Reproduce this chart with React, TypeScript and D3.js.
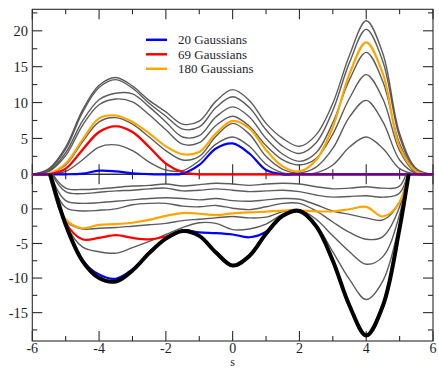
import React, { useEffect, useRef } from "react";
import * as d3 from "d3";

// sample positions along s
const xs = [-6, -5.5, -5, -4.5, -4, -3.5, -3, -2.5, -2, -1.5, -1, -0.5, 0, 0.5, 1, 1.5, 2, 2.5, 3, 3.5, 4, 4.5, 5, 5.5, 6];

// upper panel: bias potentials (gray snapshots, top to bottom)
const bias1 = [0, 0.8, 3.8, 8.9, 12.4, 13.5, 12.3, 10.3, 8.7, 7.0, 7.4, 10.2, 11.8, 10.3, 7.1, 5.0, 3.9, 5.5, 9.9, 16.6, 21.4, 16.8, 5.7, 0.8, 0];
const bias2 = [0, 0.7, 3.5, 8.6, 12.1, 13.2, 12.0, 9.9, 8.1, 6.3, 6.6, 9.3, 10.8, 9.3, 6.2, 3.9, 2.9, 4.4, 8.9, 15.6, 20.2, 15.7, 5.2, 0.6, 0];
const bias3 = [0, 0.5, 3.0, 7.4, 10.4, 11.3, 11.2, 9.4, 7.3, 5.2, 5.4, 8.0, 9.4, 8.0, 5.0, 2.8, 1.8, 3.0, 7.2, 13.2, 17.0, 12.9, 4.3, 0.4, 0];
const bias4 = [0, 0.4, 2.6, 6.8, 9.7, 10.5, 10.1, 8.3, 6.2, 4.2, 4.4, 6.8, 8.1, 6.7, 4.0, 2.0, 1.3, 2.2, 5.6, 10.6, 13.9, 10.5, 3.3, 0.2, 0];
const bias5 = [0, 0.1, 1.3, 4.5, 7.3, 7.9, 7.0, 5.2, 3.3, 2.0, 2.5, 5.3, 7.1, 5.6, 2.5, 0.7, 0.2, 1.0, 3.6, 8.0, 10.3, 7.3, 2.0, 0.1, 0];
const bias6 = [0, 0, 0.4, 2.0, 3.8, 4.1, 3.3, 1.7, 0.6, 0.5, 1.9, 4.2, 5.2, 3.9, 1.4, 0.2, 0, 0.2, 1.3, 3.8, 5.2, 3.6, 0.8, 0, 0];
const bias180 = [0, 0.1, 1.5, 4.8, 7.8, 8.2, 7.3, 5.7, 3.9, 2.8, 3.1, 5.7, 7.45, 6.4, 3.4, 1.1, 0.4, 2.0, 6.6, 14.0, 18.4, 14.0, 3.8, 0.4, 0];
const bias69 = [0, 0, 0.8, 3.4, 5.9, 6.7, 5.9, 3.8, 1.5, 0.3, 0, 0, 0, 0, 0, 0, 0, 0, 0, 0, 0, 0, 0, 0, 0];
const bias20 = [0, 0, 0, 0.1, 0.5, 0.4, 0.15, 0.02, 0, 0.1, 1.3, 3.6, 4.3, 2.9, 0.6, 0, 0, 0, 0, 0, 0, 0, 0, 0, 0];

// lower panel: free energy and free energy + bias
const freeEnergy = [14, 5.6, -2.3, -7.5, -10.0, -10.5, -8.9, -6.4, -4.3, -3.2, -3.9, -6.3, -8.2, -6.8, -3.6, -1.0, -0.3, -2.5, -7.5, -14.0, -18.3, -14.0, -2.8, 12, 26];
const sum1 = [14, 6.0, 3.0, 2.8, 2.9, 3.1, 3.3, 3.4, 3.6, 3.3, 3.5, 3.7, 3.6, 3.4, 3.6, 3.7, 3.6, 3.2, 2.9, 3.0, 3.2, 3.0, 3.3, 12.5, 26];
const sum2 = [14, 5.8, 2.5, 2.2, 2.4, 2.6, 2.7, 2.9, 3.0, 2.6, 2.7, 2.9, 2.7, 2.5, 2.6, 2.7, 2.5, 2.0, 1.7, 1.8, 1.9, 1.7, 2.3, 12, 26];
const sum3 = [14, 5.5, 1.2, 0.8, 0.9, 1.1, 1.3, 1.5, 1.6, 1.5, 1.3, 1.5, 1.2, 1.1, 1.3, 1.5, 1.4, 0.6, -0.3, -0.8, -1.3, -1.6, 1.0, 12, 26];
const sum4 = [14, 5.2, 0.2, -0.3, -0.2, 0.0, 0.6, 0.8, 0.8, 0.4, 0.3, 0.5, 0.1, -0.1, 0.3, 0.8, 0.8, -0.3, -1.9, -3.4, -4.4, -4.0, 0.3, 12, 26];
const sum5 = [14, 4.8, -1.8, -2.9, -2.8, -2.7, -2.5, -2.3, -2.1, -1.7, -1.5, -1.3, -1.1, -1.3, -1.2, -0.4, -0.1, -1.5, -3.9, -6.2, -8.0, -6.9, -0.8, 12, 26];
const sum6 = [14, 5.6, -2.2, -5.5, -6.2, -6.4, -5.6, -4.7, -3.7, -2.7, -2.0, -2.1, -3.0, -2.9, -2.2, -0.8, -0.3, -2.3, -6.2, -10.2, -13.1, -10.4, -2.0, 12, 26];
const sum180 = [14, 5.5, -1.5, -2.8, -2.3, -2.2, -2.0, -1.6, -1.0, -0.6, -0.7, -0.9, -0.65, -0.5, -0.4, -0.25, -0.2, -0.35, -0.35, -0.05, 0.3, -1.1, 1.0, 12.5, 26];
const sum69 = [14, 5.6, -2.0, -4.4, -4.2, -3.8, -4.2, -4.4, -4.0, -3.2, -3.9, -6.3, -8.2, -6.8, -3.6, -1.0, -0.3, -2.5, -7.5, -14.0, -18.3, -14.0, -2.8, 12, 26];
const sum20 = [14, 5.6, -2.3, -7.4, -9.5, -10.1, -8.75, -6.4, -4.3, -3.1, -3.4, -3.5, -3.7, -4.1, -3.3, -1.0, -0.3, -2.5, -7.5, -14.0, -18.3, -14.0, -2.8, 12, 26];

const legendLabels = ["20 Gaussians", "69 Gaussians", "180 Gaussians"];
const legendColors = ["#0000ff", "#ff0000", "#ffa500"];
const upperTicks = [0, 5, 10, 15, 20];
const upperMinor = [2.5, 7.5, 12.5, 17.5, 22.5];
const lowerTicks = [0, -5, -10, -15];
const lowerMinor = [2.5, -2.5, -7.5, -12.5, -17.5];
const xTicks = [-6, -4, -2, 0, 2, 4, 6];
const xMinor = [-5, -3, -1, 1, 3, 5];

const App = () => {
  const ref = useRef<SVGSVGElement>(null);

  useEffect(() => {
    const svg = d3.select(ref.current);
    svg.selectAll("*").remove();

    const left = 32.3, right = 433, top = 9.3, mid = 174.3, bottom = 341;
    const font = "Liberation Serif, DejaVu Serif, serif";
    const ink = "#2b2b2b";

    const x = d3.scaleLinear().domain([-6, 6]).range([left, right]);
    const yTop = d3.scaleLinear().domain([0, 23]).range([mid, top]);
    const yBot = d3.scaleLinear().domain([-19.1, 5]).range([bottom, mid]);

    const defs = svg.append("defs");
    defs.append("clipPath").attr("id", "clipTop").append("rect")
      .attr("x", left).attr("y", top).attr("width", right - left).attr("height", mid - top + 2);
    defs.append("clipPath").attr("id", "clipBot").append("rect")
      .attr("x", left).attr("y", mid).attr("width", right - left).attr("height", bottom - mid);

    // frames
    svg.append("rect").attr("x", left).attr("y", top).attr("width", right - left).attr("height", mid - top)
      .attr("fill", "none").attr("stroke", ink).attr("stroke-width", 1.1);
    svg.append("rect").attr("x", left).attr("y", mid).attr("width", right - left).attr("height", bottom - mid)
      .attr("fill", "none").attr("stroke", ink).attr("stroke-width", 1.1);

    // tick marks
    const ticks = svg.append("g").attr("stroke", ink).attr("stroke-width", 1.1);
    const hTicks = (yPos: number, vals: number[], len: number) => {
      vals.forEach((v) => {
        ticks.append("line").attr("x1", x(v)).attr("x2", x(v)).attr("y1", yPos).attr("y2", yPos + len);
      });
    };
    const vTicks = (xPos: number, scale: any, vals: number[], len: number) => {
      vals.forEach((v) => {
        ticks.append("line").attr("x1", xPos).attr("x2", xPos + len).attr("y1", scale(v)).attr("y2", scale(v));
      });
    };
    hTicks(top, xTicks, 10); hTicks(top, xMinor, 5);
    hTicks(mid, xTicks, -10); hTicks(mid, xMinor, -5);
    hTicks(mid, xTicks, 10); hTicks(mid, xMinor, 5);
    hTicks(bottom, xTicks, -10); hTicks(bottom, xMinor, -5);
    vTicks(left, yTop, upperTicks, 10); vTicks(left, yTop, upperMinor, 5);
    vTicks(right, yTop, upperTicks, -10); vTicks(right, yTop, upperMinor, -5);
    vTicks(left, yBot, lowerTicks, 10); vTicks(left, yBot, lowerMinor, 5);
    vTicks(right, yBot, lowerTicks, -10); vTicks(right, yBot, lowerMinor, -5);

    // tick labels
    const labels = svg.append("g").style("font-family", font).style("font-size", "14.5px").attr("fill", "#1e1e2a");
    upperTicks.forEach((v) => {
      labels.append("text").attr("x", 28).attr("y", yTop(v)).attr("dy", "0.35em")
        .attr("text-anchor", "end").text(String(v));
    });
    lowerTicks.forEach((v) => {
      labels.append("text").attr("x", 28).attr("y", yBot(v)).attr("dy", "0.35em")
        .attr("text-anchor", "end").text(String(v));
    });
    xTicks.forEach((v) => {
      labels.append("text").attr("x", x(v)).attr("y", 353)
        .style("font-size", "14px").attr("text-anchor", "middle").text(String(v));
    });
    labels.append("text").attr("x", x(0)).attr("y", 366).attr("text-anchor", "middle")
      .style("font-size", "12px").text("s");

    const lineTop = d3.line<number>().x((_, i) => x(xs[i])).y((d) => yTop(d)).curve(d3.curveCatmullRom.alpha(0.5));
    const lineBot = d3.line<number>().x((_, i) => x(xs[i])).y((d) => yBot(d)).curve(d3.curveCatmullRom.alpha(0.5));

    const gTop = svg.append("g").attr("clip-path", "url(#clipTop)").attr("fill", "none");
    const gBot = svg.append("g").attr("clip-path", "url(#clipBot)").attr("fill", "none");

    const draw = (g: any, gen: any, data: number[], color: string, w: number, op = 1) => {
      g.append("path").attr("d", gen(data)).attr("stroke", color).attr("stroke-width", w)
        .attr("stroke-opacity", op).attr("stroke-linejoin", "round");
    };

    // upper panel curves
    [bias1, bias2, bias3, bias4, bias5, bias6].forEach((d) => draw(gTop, lineTop, d, "#4a4a4a", 1.4, 0.9));
    draw(gTop, lineTop, bias180, legendColors[2], 2.2);
    draw(gTop, lineTop, bias69, legendColors[1], 2.2);
    draw(gTop, lineTop, bias20, legendColors[0], 2.2);
    draw(gTop, lineTop, bias69, legendColors[1], 2.2, 0.4);

    // lower panel curves
    [sum1, sum2, sum3, sum4, sum5, sum6].forEach((d) => draw(gBot, lineBot, d, "#4a4a4a", 1.4, 0.9));
    draw(gBot, lineBot, sum180, legendColors[2], 2.2);
    draw(gBot, lineBot, sum69, legendColors[1], 2.2);
    draw(gBot, lineBot, sum20, legendColors[0], 2.2);
    draw(gBot, lineBot, freeEnergy, "#000", 4);

    // legend
    const legend = svg.append("g").style("font-family", font).style("font-size", "13px").attr("fill", "#1e1e2a");
    legendLabels.forEach((lab, i) => {
      const ly = 39.8 + i * 14.5;
      legend.append("line").attr("x1", 146).attr("x2", 167).attr("y1", ly).attr("y2", ly)
        .attr("stroke", legendColors[i]).attr("stroke-width", 2.5);
      legend.append("text").attr("x", 178).attr("y", ly + 4.5).text(lab);
    });
  }, []);

  return (
    <svg ref={ref} width={439} height={369}
      style={{ position: "absolute", left: 0, top: 0, background: "#fff" }} />
  );
};

export default App;
